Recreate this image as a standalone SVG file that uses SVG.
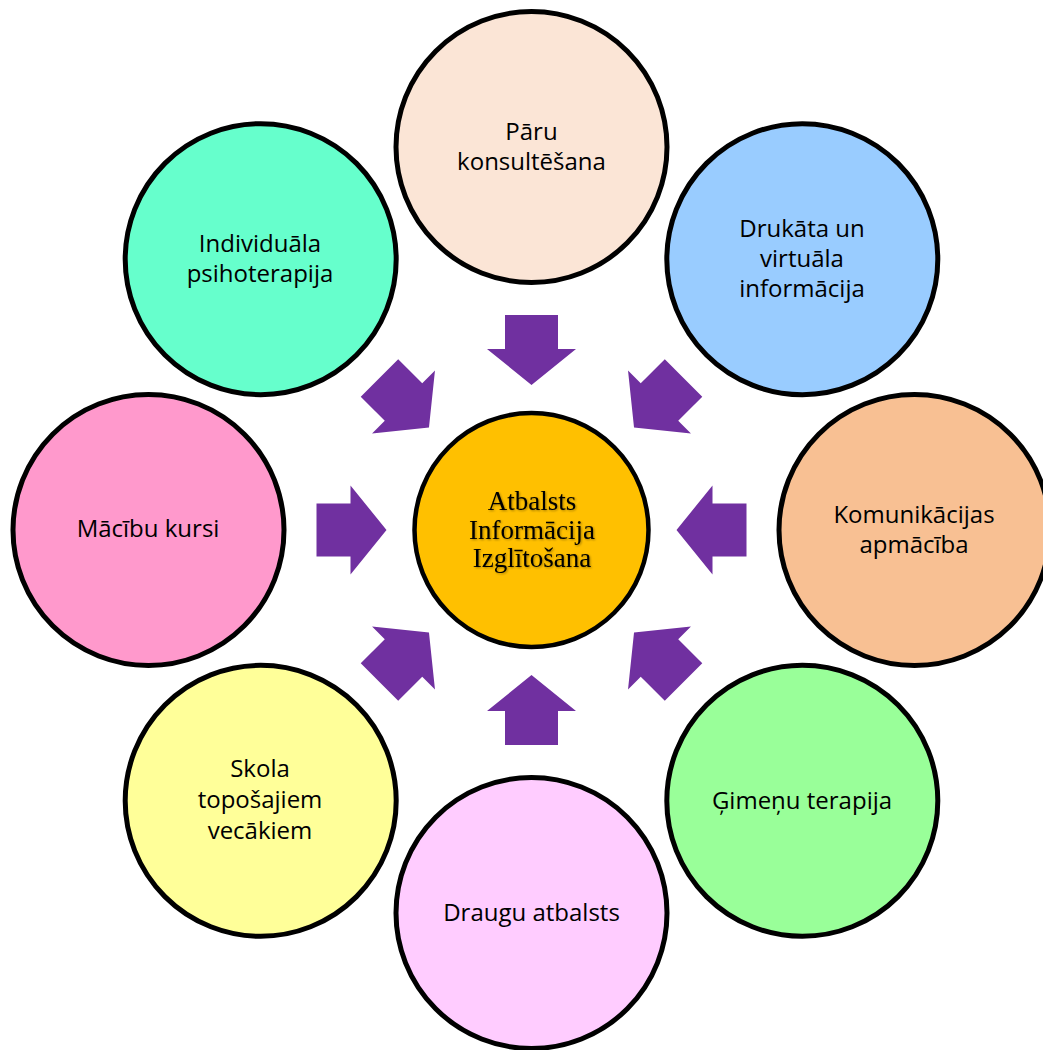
<svg xmlns="http://www.w3.org/2000/svg" xmlns:xlink="http://www.w3.org/1999/xlink" width="1043" height="1050" viewBox="0 0 1043 1050">
  <style>
    .ring { stroke: #000; stroke-width: 5; }
    .hub { stroke: #000; stroke-width: 4.5; }
    .lbl { font-family: "Open Sans", "Noto Sans", "Liberation Sans", sans-serif; font-size: 24px; fill: #000; text-anchor: middle; }
    .hub-lbl { font-family: "Liberation Serif", "Times New Roman", serif; font-size: 27px; fill: #000; text-anchor: middle; }
    .arrow { fill: #7030A0; }
  </style>
  <defs>
    <!-- block arrow pointing at the origin from the left: tail at r=215, tip at r=145 -->
    <path id="blockArrow" class="arrow" d="M -215 -26.5 L -181 -26.5 L -181 -44.5 L -145 0 L -181 44.5 L -181 26.5 L -215 26.5 Z"/>
    <filter id="softShadow" x="-10%" y="-20%" width="120%" height="140%">
      <feGaussianBlur in="SourceAlpha" stdDeviation="1"/>
      <feOffset dx="1" dy="1" result="s"/>
      <feComponentTransfer><feFuncA type="linear" slope="0.35"/></feComponentTransfer>
      <feMerge><feMergeNode/><feMergeNode in="SourceGraphic"/></feMerge>
    </filter>
  </defs>

  <rect width="1043" height="1050" fill="#fff"/>

  <!-- arrows converging on the hub -->
  <g id="connectors" transform="translate(531.5 530)">
    <use xlink:href="#blockArrow" href="#blockArrow" transform="rotate(0)"/>
    <use xlink:href="#blockArrow" href="#blockArrow" transform="rotate(45)"/>
    <use xlink:href="#blockArrow" href="#blockArrow" transform="rotate(90)"/>
    <use xlink:href="#blockArrow" href="#blockArrow" transform="rotate(135)"/>
    <use xlink:href="#blockArrow" href="#blockArrow" transform="rotate(180)"/>
    <use xlink:href="#blockArrow" href="#blockArrow" transform="rotate(225)"/>
    <use xlink:href="#blockArrow" href="#blockArrow" transform="rotate(270)"/>
    <use xlink:href="#blockArrow" href="#blockArrow" transform="rotate(315)"/>
  </g>

  <g id="hub">
    <circle class="hub" cx="531.5" cy="530" r="117" fill="#FFC000"/>
    <g filter="url(#softShadow)">
      <text class="hub-lbl" x="532" y="510">Atbalsts</text>
      <text class="hub-lbl" x="532" y="539">Informācija</text>
      <text class="hub-lbl" x="532" y="567">Izglītošana</text>
    </g>
  </g>

  <g id="node-paru">
    <circle class="ring" cx="531.5" cy="147" r="135.5" fill="#FBE5D6"/>
    <text class="lbl" x="531.5" y="140">Pāru</text>
    <text class="lbl" x="531.5" y="170">konsultēšana</text>
  </g>

  <g id="node-drukata">
    <circle class="ring" cx="802.3" cy="259.2" r="135.5" fill="#99CCFF"/>
    <text class="lbl" x="802" y="237">Drukāta un</text>
    <text class="lbl" x="802" y="267">virtuāla</text>
    <text class="lbl" x="802" y="297">informācija</text>
  </g>

  <g id="node-komunikacijas">
    <circle class="ring" cx="914.5" cy="530" r="135.5" fill="#F8C093"/>
    <text class="lbl" x="914" y="523">Komunikācijas</text>
    <text class="lbl" x="914" y="553">apmācība</text>
  </g>

  <g id="node-gimenu">
    <circle class="ring" cx="802.3" cy="800.8" r="135.5" fill="#99FF99"/>
    <text class="lbl" x="802" y="809">Ģimeņu terapija</text>
  </g>

  <g id="node-draugu">
    <circle class="ring" cx="531.5" cy="913" r="135.5" fill="#FFCCFF"/>
    <text class="lbl" x="531.5" y="921">Draugu atbalsts</text>
  </g>

  <g id="node-skola">
    <circle class="ring" cx="260.7" cy="800.8" r="135.5" fill="#FFFF99"/>
    <text class="lbl" x="260" y="777">Skola</text>
    <text class="lbl" x="260" y="808">topošajiem</text>
    <text class="lbl" x="260" y="839">vecākiem</text>
  </g>

  <g id="node-macibu">
    <circle class="ring" cx="148.5" cy="530" r="135.5" fill="#FF99CC"/>
    <text class="lbl" x="148" y="537">Mācību kursi</text>
  </g>

  <g id="node-individuala">
    <circle class="ring" cx="260.7" cy="259.2" r="135.5" fill="#66FFCC"/>
    <text class="lbl" x="260" y="252">Individuāla</text>
    <text class="lbl" x="260" y="282">psihoterapija</text>
  </g>
</svg>
